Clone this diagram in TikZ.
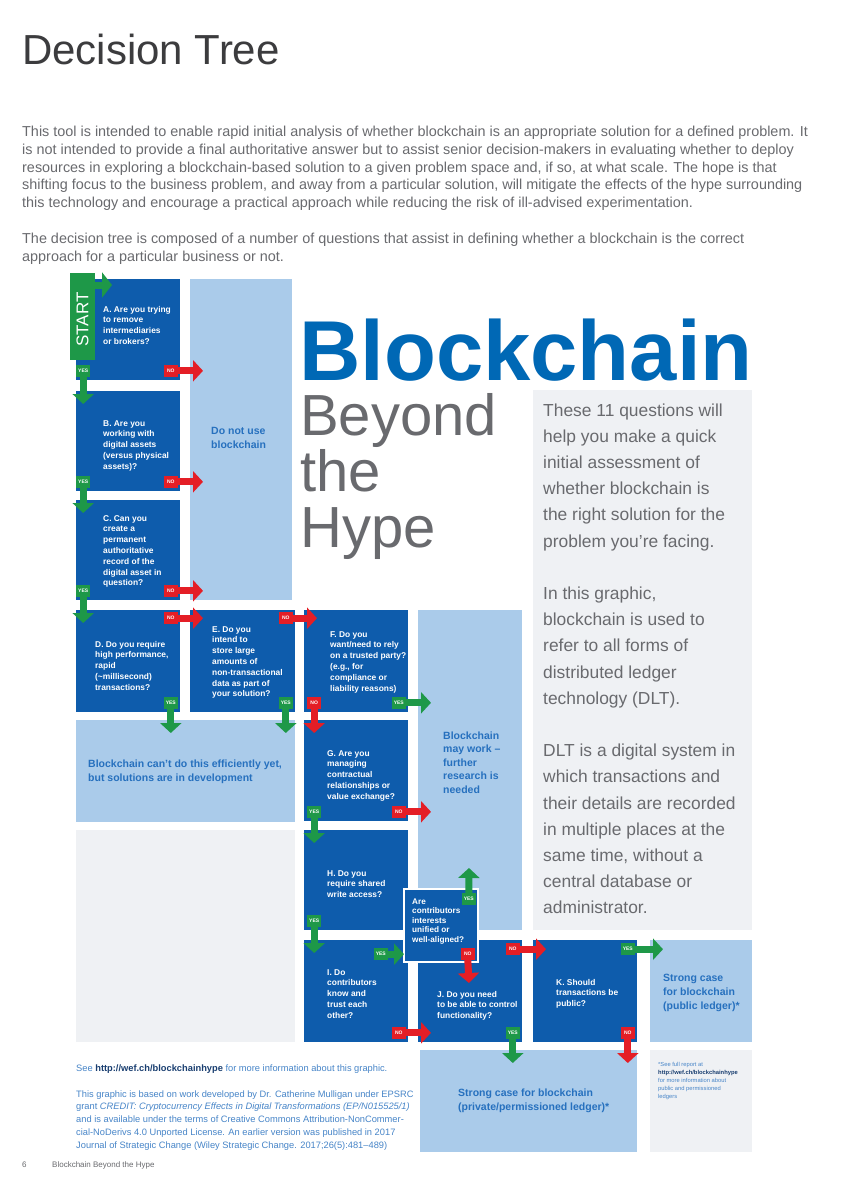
\documentclass[tikz,border=0pt]{standalone}
\usepackage{fontspec}
\setmainfont{Liberation Sans}
\usetikzlibrary{arrows.meta}
\definecolor{dtBlue}{RGB}{14,92,172}
\definecolor{dtLight}{RGB}{170,203,234}
\definecolor{dtGray}{RGB}{239,241,244}
\definecolor{dtInk}{RGB}{38,112,190}
\definecolor{dtNavy}{RGB}{25,62,112}
\definecolor{dtTitle}{RGB}{0,104,181}
\definecolor{dtText}{RGB}{105,106,110}
\definecolor{dtDark}{RGB}{60,60,62}
\definecolor{dtGreen}{RGB}{30,152,72}
\definecolor{dtRed}{RGB}{228,30,38}
\newcommand{\fs}[2]{\fontsize{#1}{#2}\selectfont}

\begin{document}
\begin{tikzpicture}[x=1pt,y=-1pt,
    box/.style={anchor=north west,inner sep=0pt,outer sep=0pt,minimum width=104pt,minimum height=102pt},
    qbox/.style={box,fill=dtBlue},
    lbox/.style={box,fill=dtLight},
    gbox/.style={box,fill=dtGray},
    qtext/.style={anchor=base west,inner sep=0pt,align=left,text=white,font=\fs{8.4}{10.8}\bfseries},
    ltext/.style={anchor=base west,inner sep=0pt,align=left,text=dtInk,font=\fs{10.5}{14}\bfseries},
    plain/.style={anchor=base west,inner sep=0pt,align=left},
    tag/.style={inner sep=0pt,minimum width=14pt,minimum height=12pt,text=white,font=\fs{5}{5}\bfseries},
    yestag/.style={tag,fill=dtGreen},
    notag/.style={tag,fill=dtRed},
    flow/.style={line width=7pt,-{Triangle[length=10pt,width=21pt]},shorten >=-13pt},
    yesarrow/.style={flow,dtGreen},
    noarrow/.style={flow,dtRed}
  ]
    \useasboundingbox (0,0) rectangle (845,1200);
    \fill[white] (0,0) rectangle (845,1200);

    % page heading (text nodes sit on the baseline of their last line)
    \node[plain,text=dtDark,font=\fs{42}{42}] (title) at (22,64) {Decision Tree};
    \node[plain,text=dtText,font=\fs{14.4}{17.8}] (intro) at (22,261.1) {This tool is intended to enable rapid initial analysis of whether blockchain is an appropriate solution for a defined problem. It\\is not intended to provide a final authoritative answer but to assist senior decision-makers in evaluating whether to deploy\\resources in exploring a blockchain-based solution to a given problem space and, if so, at what scale. The hope is that\\shifting focus to the business problem, and away from a particular solution, will mitigate the effects of the hype surrounding\\this technology and encourage a practical approach while reducing the risk of ill-advised experimentation.\\[17.8pt]The decision tree is composed of a number of questions that assist in defining whether a blockchain is the correct\\approach for a particular business or not.};

    % panels and outcomes
    \node[gbox,minimum width=219pt,minimum height=540pt] (info) at (533,390) {};
    \node[gbox,minimum width=219pt,minimum height=212pt] (blank) at (76,830) {};
    \node[gbox,minimum width=102pt] (note) at (650,1050) {};
    \node[lbox,minimum width=102pt,minimum height=321pt] (notuse) at (190,279) {};
    \node[lbox,minimum width=219pt] (cantdo) at (76,720) {};
    \node[lbox,minimum height=320pt] (maywork) at (418,610) {};
    \node[lbox,minimum width=102pt] (strongpub) at (650,940) {};
    \node[lbox,minimum width=217pt] (strongpriv) at (420,1050) {};

    % questions
    \node[qbox,minimum height=101pt] (qa) at (76,279) {};
    \node[qbox,minimum height=100pt] (qb) at (76,391) {};
    \node[qbox,minimum height=100pt] (qc) at (76,500) {};
    \node[qbox] (qd) at (76,610) {};
    \node[qbox,minimum width=105pt] (qe) at (190,610) {};
    \node[qbox] (qf) at (304,610) {};
    \node[qbox,minimum height=101pt] (qg) at (304,720) {};
    \node[qbox,minimum height=100pt] (qh) at (304,830) {};
    \node[qbox] (qi) at (304,940) {};
    \node[qbox] (qj) at (418,940) {};
    \node[qbox] (qk) at (533,940) {};
    \node[qbox,minimum width=74pt,minimum height=73pt,draw=white,line width=1.2pt] (qaligned) at (404,889) {};

    \node[box,fill=dtGreen,minimum width=25pt,minimum height=87pt] (start) at (70,273) {};
    \node[rotate=90,text=white,font=\fs{17}{17}] (starttxt) at ([yshift=-3pt]start.center) {START};

    \node[qtext] (ta) at (103,344.4) {A. Are you trying\\to remove\\intermediaries\\or brokers?};
    \node[qtext] (tb) at (103,469.2) {B. Are you\\working with\\digital assets\\(versus physical\\assets)?};
    \node[qtext] (tc) at (103,585.8) {C. Can you\\create a\\permanent\\authoritative\\record of the\\digital asset in\\question?};
    \node[qtext] (td) at (95,690.2) {D. Do you require\\high performance,\\rapid\\(\textasciitilde millisecond)\\transactions?};
    \node[qtext] (te) at (212,696.8) {E. Do you\\intend to\\store large\\amounts of\\non-transactional\\data as part of\\your solution?};
    \node[qtext] (tf) at (330,691) {F. Do you\\want/need to rely\\on a trusted party?\\(e.g., for\\compliance or\\liability reasons)};
    \node[qtext] (tg) at (327,799.2) {G. Are you\\managing\\contractual\\relationships or\\value exchange?};
    \node[qtext] (th) at (327,897.6) {H. Do you\\require shared\\write access?};
    \node[qtext] (ti) at (327,1018.2) {I. Do\\contributors\\know and\\trust each\\other?};
    \node[qtext] (tj) at (437,1018.6) {J. Do you need\\to be able to control\\functionality?};
    \node[qtext] (tk) at (556,1006.6) {K. Should\\transactions be\\public?};
    \node[qtext,font=\fs{8.2}{9.6}\bfseries] (taligned) at (412,942.4) {Are\\contributors\\interests\\unified or\\well-aligned?};

    \node[ltext] (tnotuse) at (211,448) {Do not use\\blockchain};
    \node[ltext] (tcantdo) at (88,781) {Blockchain can't do this efficiently yet,\\but solutions are in development};
    \node[ltext,font=\fs{10.5}{13.5}\bfseries] (tmaywork) at (443,793) {Blockchain\\may work --\\further\\research is\\needed};
    \node[ltext] (tstrongpub) at (663,1009) {Strong case\\for blockchain\\(public ledger)*};
    \node[ltext] (tstrongpriv) at (458,1110) {Strong case for blockchain\\(private/permissioned ledger)*};

    % title block
    \node[plain,text depth=0pt,text=dtTitle,font=\fs{85}{85}\bfseries] (brand) at (299,380) {Blockchain};
    \node[plain,text=dtText,font=\fs{58}{56}] (beyond) at (300,547) {Beyond\\the\\Hype};
    \node[plain,text=dtText,font=\fs{17.4}{26.2}] (infotxt) at (543,913.8) {These 11 questions will\\help you make a quick\\initial assessment of\\whether blockchain is\\the right solution for the\\problem you're facing.\\[26.2pt]In this graphic,\\blockchain is used to\\refer to all forms of\\distributed ledger\\technology (DLT).\\[26.2pt]DLT is a digital system in\\which transactions and\\their details are recorded\\in multiple places at the\\same time, without a\\central database or\\administrator.};

    % yes / no
    \coordinate (startTip) at (112,285);
    \draw[yesarrow,shorten >=0pt,-{Triangle[length=10pt,width=25pt]}] (start.north east |- startTip) -- (startTip);

    \node[yestag,anchor=south west] (ya) at ([yshift=3pt]qa.south west) {YES};
    \node[notag,anchor=south east] (na) at ([shift={(-2pt,3pt)}]qa.south east) {NO};
    \draw[yesarrow] (ya.south) -- (ya.south |- qb.north);
    \draw[noarrow] (na.east) -- (na.east -| notuse.west);

    \node[yestag,anchor=south west] (yb) at ([yshift=3pt]qb.south west) {YES};
    \node[notag,anchor=south east] (nb) at ([shift={(-2pt,3pt)}]qb.south east) {NO};
    \draw[yesarrow] (yb.south) -- (yb.south |- qc.north);
    \draw[noarrow] (nb.east) -- (nb.east -| notuse.west);

    \node[yestag,anchor=south west] (yc) at ([yshift=3pt]qc.south west) {YES};
    \node[notag,anchor=south east] (nc) at ([shift={(-2pt,3pt)}]qc.south east) {NO};
    \draw[yesarrow] (yc.south) -- (yc.south |- qd.north);
    \draw[noarrow] (nc.east) -- (nc.east -| notuse.west);

    \node[notag,anchor=north east] (nd) at ([shift={(-2pt,-2pt)}]qd.north east) {NO};
    \node[yestag,anchor=south east] (yd) at ([shift={(-2pt,3pt)}]qd.south east) {YES};
    \draw[noarrow] (nd.east) -- (nd.east -| qe.west);
    \draw[yesarrow] (yd.south) -- (yd.south |- cantdo.north);

    \node[notag,anchor=north east] (ne) at ([shift={(-2pt,-2pt)}]qe.north east) {NO};
    \node[yestag,anchor=south east] (ye) at ([shift={(-2pt,3pt)}]qe.south east) {YES};
    \draw[noarrow] (ne.east) -- (ne.east -| qf.west);
    \draw[yesarrow] (ye.south) -- (ye.south |- cantdo.north);

    \node[notag,anchor=south west] (nf) at ([shift={(3pt,3pt)}]qf.south west) {NO};
    \node[yestag,anchor=south east] (yf) at ([shift={(-2pt,3pt)}]qf.south east) {YES};
    \draw[noarrow] (nf.south) -- (nf.south |- qg.north);
    \draw[yesarrow] (yf.east) -- (yf.east -| maywork.west);

    \node[yestag,anchor=south west] (yg) at ([shift={(3pt,3pt)}]qg.south west) {YES};
    \node[notag,anchor=south east] (ng) at ([shift={(-2pt,3pt)}]qg.south east) {NO};
    \draw[yesarrow] (yg.south) -- (yg.south |- qh.north);
    \draw[noarrow] (ng.east) -- (ng.east -| maywork.west);

    \node[yestag,anchor=south west] (yh) at ([shift={(3pt,3pt)}]qh.south west) {YES};
    \draw[yesarrow] (yh.south) -- (yh.south |- qi.north);

    \node[yestag,anchor=north east] (yi) at ([shift={(-20pt,-8pt)}]qi.north east) {YES};
    \node[notag,anchor=south east] (ni) at ([shift={(-2pt,3pt)}]qi.south east) {NO};
    \draw[yesarrow,shorten >=0pt] (yi.east) -- (yi.east -| qaligned.west);
    \draw[noarrow] (ni.east) -- (ni.east -| qj.west);

    \coordinate (upTip) at (469,868);
    \coordinate (downTip) at (469,983);
    \node[yestag,anchor=north east] (yal) at ([shift={(-2pt,-4pt)}]qaligned.north east) {YES};
    \node[notag,anchor=south east] (nal) at ([shift={(-3pt,2pt)}]qaligned.south east) {NO};
    \draw[yesarrow,shorten >=0pt] (yal.north) -- (upTip);
    \draw[noarrow,shorten >=0pt] (nal.south) -- (downTip);

    \node[notag,anchor=north east] (nj) at ([shift={(-2pt,-3pt)}]qj.north east) {NO};
    \node[yestag,anchor=south east] (yj) at ([shift={(-2pt,3pt)}]qj.south east) {YES};
    \draw[noarrow] (nj.east) -- (nj.east -| qk.west);
    \draw[yesarrow] (yj.south) -- (yj.south |- strongpriv.north);

    \node[yestag,anchor=north east] (yk) at ([shift={(-2pt,-3pt)}]qk.north east) {YES};
    \node[notag,anchor=south east] (nk) at ([shift={(-2pt,3pt)}]qk.south east) {NO};
    \draw[yesarrow] (yk.east) -- (yk.east -| strongpub.west);
    \draw[noarrow] (nk.south) -- (nk.south |- strongpriv.north);

    % notes
    \node[plain,text=dtInk!85,font=\fs{9.3}{12.8}] (credits) at (76,1148.3) {See \textbf{\color{dtNavy}http://wef.ch/blockchainhype} for more information about this graphic.\\[12.8pt]This graphic is based on work developed by Dr. Catherine Mulligan under EPSRC\\grant \textit{CREDIT: Cryptocurrency Effects in Digital Transformations (EP/N015525/1)}\\and is available under the terms of Creative Commons Attribution-NonCommer-\\cial-NoDerivs 4.0 Unported License. An earlier version was published in 2017\\Journal of Strategic Change (Wiley Strategic Change. 2017;26(5):481--489)};
    \node[plain,text=dtInk!85,font=\fs{5.8}{8.2}] (notetxt) at (658,1098.8) {*See full report at\\\textbf{\color{dtNavy}http://wef.ch/blockchainhype}\\for more information about\\public and permissioned\\ledgers};
    \node[plain,text=dtText,font=\fs{8}{8}] (pageno) at (22,1167) {6};
    \node[plain,text=dtText,font=\fs{8}{8}] (running) at (52,1167) {Blockchain Beyond the Hype};
  \end{tikzpicture}
\end{document}
